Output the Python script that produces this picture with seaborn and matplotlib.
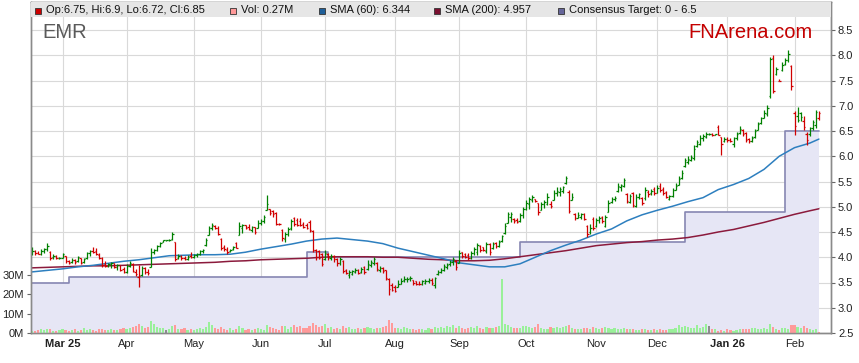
import numpy as np
import pandas as pd
import matplotlib
matplotlib.use("Agg")
import matplotlib.pyplot as plt
from matplotlib.patches import Rectangle
import seaborn as sns

# trading days shown (weekdays)
start_date = "2025-02-17"
end_date = "2026-02-12"

# daily bars
op = [
    4.08, 4.12, 4.09, 4.07, 4.12, 4.16, 4.10, 4.00, 4.02, 3.98,
    3.99, 4.02, 3.92, 3.90, 3.95, 3.92, 3.98, 3.90, 3.98, 4.08,
    4.12, 4.12, 4.05, 3.98, 3.86, 3.83, 3.86, 3.88, 3.80, 3.84,
    3.76, 3.70, 3.82, 3.86, 3.70, 3.60, 3.64, 3.78, 3.70, 3.80,
    4.10, 4.15, 4.22, 4.30, 4.34, 4.34, 4.36, 4.30, 3.98, 4.03,
    3.98, 3.97, 4.02, 4.00, 4.05, 4.06, 4.12, 4.24, 4.45, 4.58,
    4.62, 4.58, 4.36, 4.20, 4.14, 4.12, 4.16, 4.28, 4.45, 4.58,
    4.63, 4.60, 4.54, 4.60, 4.58, 4.68, 4.72, 4.94, 4.95, 4.92,
    4.88, 4.66, 4.54, 4.36, 4.46, 4.58, 4.78, 4.74, 4.72, 4.66,
    4.64, 4.70, 4.52, 4.14, 4.12, 4.06, 3.96, 4.06, 3.98, 4.03,
    3.96, 3.88, 3.92, 3.74, 3.65, 3.66, 3.70, 3.74, 3.70, 3.80,
    3.76, 3.84, 3.88, 3.88, 3.74, 3.78, 3.74, 3.56, 3.46, 3.42,
    3.42, 3.48, 3.54, 3.56, 3.58, 3.54, 3.52, 3.48, 3.48, 3.50,
    3.52, 3.55, 3.46, 3.66, 3.70, 3.74, 3.80, 3.86, 3.90, 3.92,
    3.88, 4.10, 4.06, 4.04, 3.98, 4.08, 4.10, 4.22, 4.20, 4.12,
    4.26, 4.18, 4.28, 4.22, 4.32, 4.48, 4.68, 4.80, 4.76, 4.74,
    4.72, 4.84, 4.96, 5.05, 5.14, 5.16, 5.07, 4.94, 5.05, 5.06,
    5.05, 5.14, 5.28, 5.30, 5.32, 5.48, 5.30, 5.14, 4.86, 4.78,
    4.80, 4.86, 4.62, 4.50, 4.76, 4.62, 4.74, 4.80, 4.62, 4.90,
    5.10, 5.16, 5.32, 5.40, 5.42, 5.25, 5.10, 5.28, 5.02, 5.20,
    5.18, 5.18, 5.30, 5.28, 5.36, 5.27, 5.42, 5.36, 5.30, 5.16,
    5.22, 5.34, 5.44, 5.56, 5.80, 5.88, 5.92, 5.96, 6.20, 6.24,
    6.36, 6.38, 6.44, 6.44, 6.43, 6.58, 6.38, 6.30, 6.34, 6.32,
    6.24, 6.36, 6.46, 6.52, 6.46, 6.34, 6.30, 6.38, 6.52, 6.66,
    6.76, 6.84, 7.20, 7.95, 7.62, 7.50, 7.70, 7.82, 7.90, 7.78,
    6.86, 6.80, 6.85, 6.70, 6.45, 6.44, 6.55, 6.62, 6.75,
]
hi = [
    4.21, 4.14, 4.13, 4.16, 4.18, 4.28, 4.12, 4.06, 4.04, 4.01,
    4.09, 4.03, 3.95, 3.98, 3.97, 4.02, 3.99, 3.99, 4.10, 4.15,
    4.20, 4.19, 4.08, 4.01, 3.92, 3.88, 3.90, 3.89, 3.86, 3.85,
    3.80, 3.86, 3.92, 3.88, 3.76, 3.85, 3.82, 3.80, 3.76, 4.18,
    4.16, 4.24, 4.30, 4.35, 4.35, 4.36, 4.50, 4.30, 4.06, 4.05,
    4.02, 4.04, 4.10, 4.07, 4.08, 4.14, 4.16, 4.38, 4.62, 4.68,
    4.64, 4.62, 4.38, 4.24, 4.20, 4.17, 4.22, 4.30, 4.70, 4.66,
    4.64, 4.66, 4.61, 4.60, 4.73, 4.76, 4.84, 5.23, 4.96, 4.94,
    4.90, 4.67, 4.55, 4.50, 4.60, 4.76, 4.80, 4.78, 4.77, 4.70,
    4.68, 4.74, 4.54, 4.16, 4.14, 4.08, 4.15, 4.08, 4.06, 4.04,
    3.98, 4.01, 3.94, 3.76, 3.75, 3.74, 3.78, 3.76, 3.81, 3.82,
    3.94, 3.94, 4.01, 3.91, 3.82, 3.80, 3.75, 3.58, 3.50, 3.46,
    3.55, 3.58, 3.62, 3.60, 3.62, 3.55, 3.53, 3.52, 3.55, 3.56,
    3.58, 3.58, 3.60, 3.75, 3.78, 3.86, 3.88, 3.94, 4.01, 3.94,
    4.14, 4.11, 4.09, 4.08, 4.12, 4.21, 4.28, 4.24, 4.21, 4.31,
    4.28, 4.31, 4.30, 4.34, 4.44, 4.67, 4.90, 4.90, 4.78, 4.77,
    4.87, 5.00, 5.13, 5.20, 5.23, 5.16, 5.07, 5.10, 5.14, 5.27,
    5.12, 5.33, 5.40, 5.40, 5.42, 5.60, 5.34, 5.27, 4.87, 4.89,
    4.88, 4.87, 4.64, 4.66, 4.80, 4.78, 4.82, 4.82, 4.84, 5.13,
    5.20, 5.22, 5.47, 5.46, 5.57, 5.27, 5.26, 5.30, 5.26, 5.28,
    5.20, 5.40, 5.33, 5.36, 5.40, 5.43, 5.47, 5.40, 5.32, 5.24,
    5.37, 5.47, 5.60, 5.73, 5.97, 6.00, 6.03, 6.22, 6.32, 6.42,
    6.45, 6.49, 6.46, 6.46, 6.45, 6.62, 6.39, 6.39, 6.38, 6.36,
    6.39, 6.48, 6.60, 6.54, 6.48, 6.36, 6.40, 6.54, 6.68, 6.78,
    6.92, 7.02, 7.97, 8.00, 7.77, 7.52, 7.86, 7.95, 8.10, 7.80,
    6.89, 6.98, 6.88, 6.79, 6.49, 6.58, 6.72, 6.92, 6.90,
]
lo = [
    4.04, 4.05, 4.06, 4.05, 4.09, 4.12, 3.95, 3.97, 3.96, 3.97,
    3.98, 3.88, 3.86, 3.88, 3.87, 3.90, 3.86, 3.89, 3.97, 4.02,
    4.08, 4.04, 3.97, 3.81, 3.80, 3.80, 3.78, 3.78, 3.74, 3.72,
    3.68, 3.69, 3.80, 3.70, 3.62, 3.42, 3.62, 3.66, 3.64, 3.80,
    4.06, 4.12, 4.20, 4.30, 4.33, 4.33, 4.34, 3.93, 3.96, 3.95,
    3.94, 3.94, 3.98, 3.99, 4.00, 4.04, 4.08, 4.22, 4.44, 4.54,
    4.55, 4.44, 4.14, 4.12, 4.07, 4.10, 4.14, 4.18, 4.44, 4.48,
    4.56, 4.53, 4.50, 4.46, 4.57, 4.64, 4.67, 4.94, 4.84, 4.80,
    4.64, 4.63, 4.33, 4.30, 4.43, 4.54, 4.62, 4.62, 4.62, 4.58,
    4.55, 4.50, 4.10, 3.95, 3.96, 3.82, 3.95, 3.95, 3.94, 3.90,
    3.82, 3.85, 3.68, 3.67, 3.58, 3.64, 3.68, 3.66, 3.68, 3.66,
    3.75, 3.81, 3.85, 3.72, 3.70, 3.68, 3.55, 3.25, 3.33, 3.32,
    3.41, 3.47, 3.51, 3.51, 3.53, 3.45, 3.46, 3.46, 3.45, 3.48,
    3.50, 3.46, 3.40, 3.65, 3.68, 3.72, 3.76, 3.82, 3.85, 3.75,
    3.88, 3.98, 3.98, 3.94, 3.96, 4.04, 4.04, 4.10, 4.12, 4.08,
    4.04, 4.16, 4.18, 4.21, 4.31, 4.47, 4.67, 4.70, 4.67, 4.67,
    4.70, 4.78, 4.93, 4.95, 5.10, 5.10, 4.84, 4.93, 4.98, 5.04,
    4.97, 5.13, 5.22, 5.22, 5.28, 5.46, 4.87, 5.13, 4.74, 4.77,
    4.76, 4.73, 4.41, 4.46, 4.54, 4.60, 4.68, 4.68, 4.60, 4.90,
    5.08, 5.12, 5.30, 5.32, 5.40, 5.07, 5.08, 5.00, 5.00, 5.16,
    5.03, 5.13, 5.20, 5.24, 5.23, 5.27, 5.30, 5.23, 5.17, 5.13,
    5.20, 5.33, 5.43, 5.55, 5.79, 5.85, 5.90, 5.93, 6.19, 6.22,
    6.30, 6.36, 6.42, 6.40, 6.42, 6.42, 6.03, 6.28, 6.28, 6.29,
    6.19, 6.33, 6.44, 6.40, 6.29, 6.26, 6.28, 6.36, 6.52, 6.64,
    6.76, 6.79, 7.15, 7.25, 7.60, 7.49, 7.68, 7.80, 7.86, 7.31,
    6.42, 6.67, 6.70, 6.52, 6.22, 6.40, 6.52, 6.56, 6.72,
]
cl = [
    4.12, 4.08, 4.07, 4.13, 4.16, 4.22, 3.98, 4.03, 3.98, 3.99,
    4.06, 3.92, 3.89, 3.95, 3.91, 4.00, 3.88, 3.97, 4.08, 4.12,
    4.10, 4.06, 3.99, 3.85, 3.83, 3.86, 3.88, 3.80, 3.84, 3.75,
    3.70, 3.82, 3.88, 3.72, 3.66, 3.62, 3.78, 3.70, 3.69, 4.10,
    4.14, 4.22, 4.28, 4.34, 4.34, 4.35, 4.46, 3.97, 4.03, 3.98,
    3.96, 4.01, 4.00, 4.05, 4.06, 4.12, 4.14, 4.34, 4.58, 4.64,
    4.57, 4.47, 4.18, 4.16, 4.10, 4.15, 4.20, 4.19, 4.62, 4.63,
    4.58, 4.56, 4.59, 4.50, 4.68, 4.72, 4.80, 5.06, 4.88, 4.86,
    4.66, 4.65, 4.38, 4.46, 4.56, 4.72, 4.66, 4.64, 4.63, 4.60,
    4.58, 4.53, 4.14, 4.00, 3.98, 3.86, 4.08, 4.00, 4.03, 3.96,
    3.88, 3.96, 3.72, 3.69, 3.71, 3.72, 3.75, 3.69, 3.77, 3.70,
    3.86, 3.90, 3.97, 3.76, 3.79, 3.72, 3.58, 3.38, 3.36, 3.34,
    3.48, 3.53, 3.56, 3.57, 3.58, 3.50, 3.48, 3.47, 3.52, 3.53,
    3.55, 3.50, 3.58, 3.70, 3.74, 3.82, 3.84, 3.90, 3.97, 3.80,
    4.08, 4.02, 4.00, 3.98, 4.08, 4.16, 4.24, 4.15, 4.14, 4.26,
    4.10, 4.27, 4.22, 4.30, 4.42, 4.62, 4.85, 4.86, 4.72, 4.70,
    4.84, 4.96, 5.08, 5.15, 5.20, 5.12, 4.90, 5.05, 5.10, 5.20,
    5.02, 5.28, 5.32, 5.36, 5.40, 5.56, 4.92, 5.20, 4.78, 4.84,
    4.86, 4.76, 4.46, 4.58, 4.57, 4.74, 4.78, 4.72, 4.80, 5.08,
    5.16, 5.18, 5.42, 5.44, 5.52, 5.12, 5.22, 5.04, 5.20, 5.25,
    5.08, 5.34, 5.26, 5.32, 5.27, 5.38, 5.34, 5.28, 5.20, 5.22,
    5.34, 5.42, 5.55, 5.66, 5.92, 5.95, 5.98, 6.15, 6.28, 6.36,
    6.40, 6.44, 6.44, 6.43, 6.44, 6.43, 6.25, 6.34, 6.32, 6.31,
    6.36, 6.44, 6.54, 6.45, 6.33, 6.30, 6.36, 6.50, 6.64, 6.75,
    6.86, 6.96, 7.92, 7.30, 7.72, 7.50, 7.80, 7.90, 8.02, 7.40,
    6.60, 6.72, 6.78, 6.58, 6.32, 6.55, 6.68, 6.88, 6.85,
]
# volume in millions
vol = [
    1.2, 1.0, 1.6, 2.0, 1.3, 2.2, 1.8, 1.2, 1.0, 1.5,
    2.0, 1.6, 1.1, 1.4, 1.9, 1.2, 1.7, 2.6, 1.3, 1.8,
    1.5, 1.2, 1.9, 2.3, 1.4, 1.6, 1.8, 1.3, 1.5, 2.2,
    2.4, 1.8, 2.6, 2.9, 3.4, 4.8, 3.6, 2.5, 3.1, 6.0,
    4.5, 3.2, 2.8, 2.4, 1.6, 1.9, 3.8, 4.1, 2.3, 1.8,
    2.5, 1.6, 2.2, 1.5, 1.9, 2.6, 2.0, 3.1, 5.8, 4.2,
    2.4, 1.8, 3.0, 2.2, 1.7, 2.5, 1.5, 2.0, 3.6, 2.8,
    1.6, 2.2, 1.4, 1.8, 2.4, 2.0, 1.6, 4.2, 3.1, 2.4,
    1.9, 1.5, 3.8, 3.4, 2.2, 2.9, 4.0, 3.3, 3.6, 2.6,
    2.8, 3.5, 5.2, 4.1, 3.0, 3.8, 4.4, 2.6, 3.1, 2.2,
    2.5, 2.0, 3.5, 2.4, 3.1, 1.8, 2.2, 2.6, 2.0, 2.4,
    3.0, 2.5, 2.1, 2.8, 2.4, 3.2, 3.6, 6.8, 5.0, 2.8,
    2.6, 2.2, 3.0, 2.4, 1.8, 2.0, 1.6, 1.9, 2.2, 1.7,
    2.5, 2.0, 3.0, 2.6, 3.2, 2.8, 3.6, 3.0, 3.9, 2.6,
    3.4, 2.4, 2.0, 2.7, 3.2, 2.5, 3.5, 2.8, 2.2, 3.0,
    2.6, 2.8, 3.2, 3.6, 27.6, 4.6, 4.0, 3.2, 2.8, 2.4,
    2.6, 3.4, 3.8, 2.9, 2.4, 3.1, 4.6, 2.8, 2.2, 2.0,
    3.0, 2.6, 3.2, 2.8, 3.0, 3.4, 4.2, 2.6, 2.2, 1.8,
    1.9, 2.4, 2.8, 2.2, 3.1, 2.5, 2.1, 2.4, 3.0, 2.6,
    2.0, 2.5, 2.2, 1.9, 2.4, 2.3, 1.8, 2.0, 1.6, 1.5,
    1.8, 2.2, 1.6, 1.4, 1.9, 1.7, 2.0, 1.5, 1.3, 1.8,
    2.1, 2.8, 4.2, 3.3, 3.6, 3.0, 2.6, 2.4, 4.0, 2.6,
    3.2, 4.4, 3.6, 2.2, 1.8, 1.2, 1.6, 0.9, 1.8, 1.7,
    1.2, 1.6, 1.9, 2.0, 2.2, 2.0, 2.4, 2.6, 2.3, 2.0,
    2.4, 1.9, 4.4, 3.2, 1.8, 1.6, 2.6, 2.5, 2.0, 4.0,
    4.1, 3.0, 2.4, 3.4, 2.6, 2.0, 1.6, 1.9, 0.27,
]

# moving averages, read weekly (every 5th trading day, plus the last day)
sma60 = [
    3.71, 3.74, 3.77, 3.81, 3.84, 3.88, 3.92, 3.95, 3.99, 4.03,
    4.04, 4.05, 4.05, 4.06, 4.10, 4.16, 4.21, 4.26, 4.32, 4.36,
    4.38, 4.35, 4.32, 4.27, 4.18, 4.11, 4.04, 3.97, 3.89, 3.85,
    3.81, 3.81, 3.87, 4.00, 4.13, 4.24, 4.34, 4.46, 4.56, 4.72,
    4.84, 4.93, 5.01, 5.10, 5.18, 5.34, 5.44, 5.56, 5.74, 6.00,
    6.17, 6.26, 6.34,
]
sma200 = [
    3.79, 3.80, 3.81, 3.82, 3.83, 3.83, 3.84, 3.85, 3.86, 3.87,
    3.88, 3.89, 3.90, 3.92, 3.93, 3.95, 3.96, 3.97, 3.98, 4.00,
    4.01, 4.01, 4.01, 4.00, 4.00, 3.98, 3.96, 3.95, 3.93, 3.93,
    3.94, 3.97, 4.01, 4.05, 4.09, 4.13, 4.18, 4.23, 4.26, 4.29,
    4.31, 4.34, 4.36, 4.39, 4.44, 4.50, 4.55, 4.62, 4.69, 4.77,
    4.85, 4.92, 4.96,
]
sma60_last = 6.344
sma200_last = 4.957

# consensus target steps
target_dates = ["2025-02-17", "2025-03-05", "2025-06-23", "2025-07-02",
                "2025-09-29", "2025-12-12", "2026-01-28"]
target_vals = [3.5, 3.6, 4.1, 4.0, 4.3, 4.9, 6.5]

month_labels = ["Mar 25", "Apr", "May", "Jun", "Jul", "Aug", "Sep",
                "Oct", "Nov", "Dec", "Jan 26", "Feb"]
price_ticks = [2.5, 3.0, 3.5, 4.0, 4.5, 5.0, 5.5, 6.0, 6.5, 7.0, 7.5, 8.0, 8.5]
vol_ticks = [0, 10, 20, 30]

W, H = 859, 363

sns.set_style("white")
plt.rcParams["font.family"] = ["Liberation Sans", "DejaVu Sans"]

days = pd.bdate_range(start_date, end_date)
x = np.arange(len(days))
cl_a = np.array(cl)
chg = np.round(np.diff(cl_a, prepend=cl_a[0] - 0.01), 4)
bar_col = np.where(chg < 0, "#d00000", "#008000")
vol_col = np.where(chg > 0, "#99f099", np.where(chg < 0, "#ff9a9a", "#8c8c8c"))

fig = plt.figure(figsize=(W / 100, H / 100), dpi=100)
ax = fig.add_axes([31 / W, 30 / H, 800 / W, 331 / H])
ax2 = ax.twinx()

# grid + consensus target area
ax.set_axisbelow(True)
ax.grid(True, color="#d9d9d9", lw=0.8)
tx = list(days.get_indexer(pd.to_datetime(target_dates))) + [x[-1]]
ty = target_vals + [target_vals[-1]]
ax.fill_between(tx, ty, 0, step="post", color="#e6e6f5", lw=0, zorder=1)
ax.step(tx, ty, where="post", color="#8686b2", lw=1.2, zorder=1.5)

# SMA lines
sma_days = list(days[::5]) + [days[-1]]
sma_x = days.get_indexer(sma_days)
sns.lineplot(x=sma_x, y=sma200, ax=ax, color="#8b1a3c", lw=1.1, zorder=2)
sns.lineplot(x=sma_x, y=sma60, ax=ax, color="#2d7fbf", lw=1.1, zorder=2)

# OHLC bars
ax.vlines(x, lo, hi, colors=bar_col, lw=0.9, zorder=4)
ax.hlines(op, x - 0.5, x, colors=bar_col, lw=0.9, zorder=4)
ax.hlines(cl, x, x + 0.5, colors=bar_col, lw=0.9, zorder=4)

ax.set_xlim(-0.33, -0.33 + 800 / 3.05)
ax.set_ylim(2.5, 2.5 + 331 / 50.5)
ax.set_xlabel("")
ax.set_ylabel("")

# month ticks at first trading day of each month
month_pos = [i for i in range(1, len(days)) if days[i].month != days[i - 1].month]
ax.set_xticks(month_pos)
ax.set_xticklabels(month_labels)
for t in ax.get_xticklabels():
    if " " in t.get_text():
        t.set_fontweight("bold")
ax.tick_params(axis="x", length=0, pad=4, labelsize=8, labelcolor="#222222")

ax.yaxis.tick_right()
ax.set_yticks(price_ticks)
ax.set_yticklabels([f"{v:.1f}" for v in price_ticks])
ax.tick_params(axis="y", right=True, left=False, length=3, width=0.8,
               color="#666666", labelsize=8, pad=2, labelcolor="#222222")

# volume
ax2.bar(x, vol, width=0.7, color=vol_col, lw=0, zorder=2)
ax2.set_ylim(0, 170)
ax2.yaxis.tick_left()
ax2.set_yticks(vol_ticks)
ax2.set_yticklabels([f"{v}M" for v in vol_ticks])
ax2.tick_params(axis="y", left=True, right=False, length=3, width=0.8,
                color="#666666", labelsize=8, pad=2, labelcolor="#222222")
ax2.grid(False)

for a in (ax, ax2):
    for s in a.spines.values():
        s.set_color("#8a8a8a")
        s.set_linewidth(1.0)

# header band with legend
ax2.add_patch(Rectangle((0, 1 - 15 / 331), 1, 15 / 331, transform=ax2.transAxes,
                        facecolor="#e6e6e6", edgecolor="none", zorder=10, clip_on=False))

legend_items = [
    (35, "#cc0000", f"Op:{op[-1]:g}, Hi:{hi[-1]:g}, Lo:{lo[-1]:g}, Cl:{cl[-1]:g}"),
    (230, "#ff9999", f"Vol: {vol[-1]:.2f}M"),
    (319, "#1f5f99", f"SMA (60): {sma60_last}"),
    (434, "#7a1030", f"SMA (200): {sma200_last}"),
    (558, "#66669a", "Consensus Target: 0 - 6.5"),
]
for px, c, label in legend_items:
    fig.add_artist(Rectangle((px / W, 1 - 13.5 / H), 6 / W, 6 / H,
                             transform=fig.transFigure, facecolor=c,
                             edgecolor="#333333", lw=0.6, zorder=20))
    fig.text((px + 11) / W, 1 - 10 / H, label, fontsize=8, color="#111111",
             ha="left", va="center", zorder=21)

fig.text(42 / W, 1 - 32.5 / H, "EMR", fontsize=14.5, color="#5a5a5a",
         ha="left", va="center")
fig.text(750 / W, 1 - 32.5 / H, "FNArena.com", fontsize=14.5, color="#c40000",
         ha="center", va="center")

fig.savefig("out.png", dpi=100)
